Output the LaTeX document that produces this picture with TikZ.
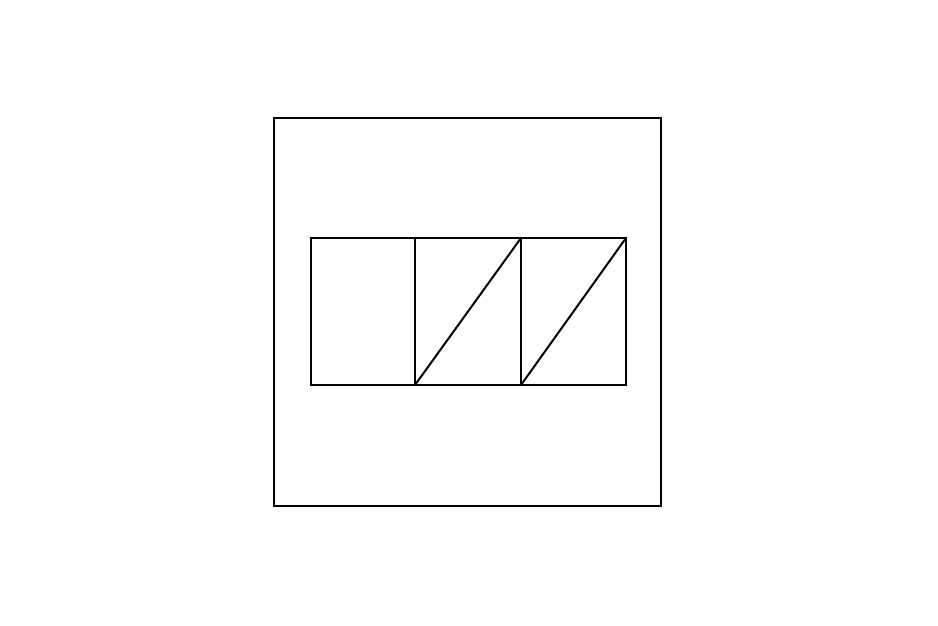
\documentclass[tikz,border=0pt]{standalone}
\begin{document}
\begin{tikzpicture}[x=1pt,y=1pt,line width=2pt,
  frame/.style={draw=black,line join=miter}]
\useasboundingbox (0,0) rectangle (938,625);
\coordinate (oa) at (274,119);
\coordinate (ob) at (661,507);
\draw[frame] (oa) rectangle (ob);
\coordinate (ia) at (311,240);
\coordinate (ib) at (626,387);
\draw[frame] (ia) rectangle (ib);
\coordinate (d1b) at (415,240);
\coordinate (d1t) at (415,387);
\coordinate (d2b) at (521,240);
\coordinate (d2t) at (521,387);
\draw[frame] (d1b) -- (d1t);
\draw[frame] (d2b) -- (d2t);
\draw[frame] (d1b) -- (d2t);
\draw[frame] (d2b) -- (626,387);
\end{tikzpicture}
\end{document}
